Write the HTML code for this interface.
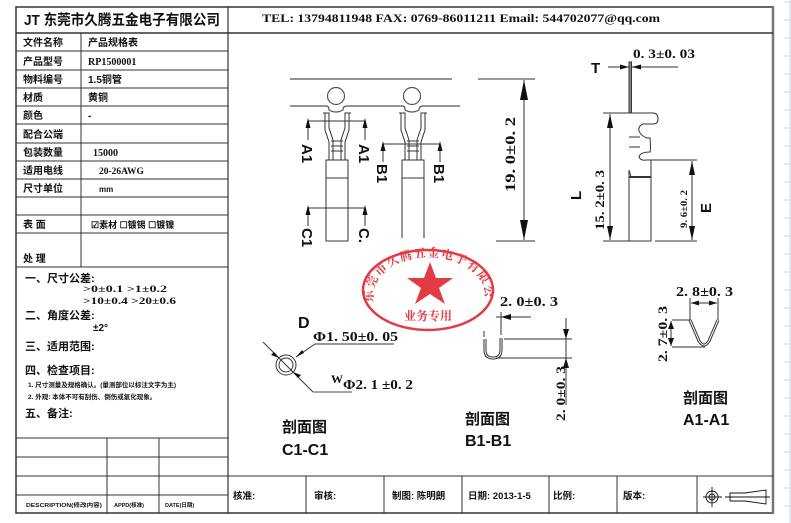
<!DOCTYPE html>
<html><head><meta charset="utf-8"><style>
html,body{margin:0;padding:0;background:#fff;}
svg{display:block;}
.c{font-family:"Liberation Sans","Noto Sans CJK SC",sans-serif;font-weight:bold;fill:#111;}
.m{font-family:"Liberation Mono","Noto Sans CJK SC",monospace;font-weight:bold;fill:#111;}
.s{font-family:"Liberation Sans",sans-serif;font-weight:bold;fill:#111;}
.f{font-family:"Liberation Serif",serif;font-weight:bold;fill:#111;}
</style></head><body>
<svg width="791" height="523" viewBox="0 0 791 523" xmlns="http://www.w3.org/2000/svg">
<defs>
<path id="arc" d="M374,302 A56,38 0 1 1 484,302"/>
</defs>
<line x1="790" y1="0" x2="790" y2="523" stroke="#c9d3e6" stroke-width="1"/>
<g stroke="#c9d3e6" stroke-width="1">
<line x1="784" y1="2" x2="790" y2="2"/><line x1="784" y1="20" x2="790" y2="20"/><line x1="784" y1="38" x2="790" y2="38"/><line x1="784" y1="56" x2="790" y2="56"/><line x1="784" y1="74" x2="790" y2="74"/><line x1="784" y1="92" x2="790" y2="92"/><line x1="784" y1="110" x2="790" y2="110"/><line x1="784" y1="128" x2="790" y2="128"/><line x1="784" y1="146" x2="790" y2="146"/><line x1="784" y1="164" x2="790" y2="164"/><line x1="784" y1="182" x2="790" y2="182"/><line x1="784" y1="200" x2="790" y2="200"/><line x1="784" y1="218" x2="790" y2="218"/><line x1="784" y1="236" x2="790" y2="236"/><line x1="784" y1="254" x2="790" y2="254"/><line x1="784" y1="272" x2="790" y2="272"/><line x1="784" y1="290" x2="790" y2="290"/><line x1="784" y1="308" x2="790" y2="308"/><line x1="784" y1="326" x2="790" y2="326"/><line x1="784" y1="344" x2="790" y2="344"/><line x1="784" y1="362" x2="790" y2="362"/><line x1="784" y1="380" x2="790" y2="380"/><line x1="784" y1="398" x2="790" y2="398"/><line x1="784" y1="416" x2="790" y2="416"/><line x1="784" y1="434" x2="790" y2="434"/><line x1="784" y1="452" x2="790" y2="452"/><line x1="784" y1="470" x2="790" y2="470"/><line x1="784" y1="488" x2="790" y2="488"/><line x1="784" y1="506" x2="790" y2="506"/>
</g>
<rect x="16" y="7" width="757" height="506" fill="none" stroke="#333" stroke-width="1.5"/>
<line x1="773" y1="7" x2="773" y2="513" stroke="#777" stroke-width="2.5"/>
<line x1="16" y1="33" x2="773" y2="33" stroke="#333" stroke-width="1.5"/>
<line x1="228" y1="7" x2="228" y2="513" stroke="#333" stroke-width="1.2"/>
<g stroke="#333" stroke-width="1">
<line x1="16" y1="51" x2="228" y2="51"/><line x1="16" y1="70" x2="228" y2="70"/><line x1="16" y1="88" x2="228" y2="88"/><line x1="16" y1="106" x2="228" y2="106"/><line x1="16" y1="124" x2="228" y2="124"/><line x1="16" y1="143" x2="228" y2="143"/><line x1="16" y1="161" x2="228" y2="161"/><line x1="16" y1="179" x2="228" y2="179"/><line x1="16" y1="197" x2="228" y2="197"/><line x1="16" y1="215" x2="228" y2="215"/><line x1="16" y1="233" x2="228" y2="233"/><line x1="16" y1="267" x2="228" y2="267"/>
<line x1="81" y1="33" x2="81" y2="267"/>
<line x1="16" y1="438" x2="228" y2="438"/><line x1="16" y1="457" x2="228" y2="457"/><line x1="16" y1="476" x2="773" y2="476"/><line x1="16" y1="495" x2="228" y2="495"/>
<line x1="107" y1="438" x2="107" y2="513"/><line x1="159" y1="438" x2="159" y2="513"/>
<line x1="306" y1="476" x2="306" y2="513"/><line x1="384" y1="476" x2="384" y2="513"/><line x1="462" y1="476" x2="462" y2="513"/><line x1="549" y1="476" x2="549" y2="513"/><line x1="617" y1="476" x2="617" y2="513"/><line x1="697" y1="476" x2="697" y2="513"/>
</g>
<text x="24" y="25" class="c" font-size="14.5" textLength="196" lengthAdjust="spacingAndGlyphs">JT 东莞市久腾五金电子有限公司</text>
<g class="c" font-size="10">
<text x="23" y="46">文件名称</text><text x="88" y="46">产品规格表</text>
<text x="23" y="65">产品型号</text><text x="88" y="65" class="f" font-size="10">RP1500001</text>
<text x="23" y="83">物料编号</text><text x="88" y="83">1.5铜管</text>
<text x="23" y="101">材质</text><text x="88" y="101">黄铜</text>
<text x="23" y="119">颜色</text><text x="88" y="119">-</text>
<text x="23" y="138">配合公端</text>
<text x="23" y="156">包装数量</text><text x="93" y="156" class="f" font-size="10">15000</text>
<text x="23" y="174">适用电线</text><text x="99" y="174" class="f" font-size="9.5">20-26AWG</text>
<text x="23" y="192">尺寸单位</text><text x="99" y="192" font-size="8">mm</text>
<text x="23" y="228">表 面</text><text x="91" y="228" font-size="9">☑素材  ☐镀锡  ☐镀镍</text>
<text x="23" y="262">处 理</text>
</g>
<g class="c">
<text x="25" y="282" font-size="11">一、尺寸公差:</text>
<text x="83" y="292" font-size="9" class="f" textLength="84" lengthAdjust="spacingAndGlyphs">&gt;0±0.1      &gt;1±0.2</text>
<text x="83" y="304" font-size="9" class="f" textLength="93" lengthAdjust="spacingAndGlyphs">&gt;10±0.4      &gt;20±0.6</text>
<text x="25" y="319" font-size="11">二、角度公差:</text>
<text x="93" y="331" font-size="10">±2°</text>
<text x="25" y="350" font-size="11">三、适用范围:</text>
<text x="25" y="374" font-size="11">四、检查项目:</text>
<text x="28" y="387" font-size="6.5">1. 尺寸测量及规格确认。(量测部位以标注文字为主)</text>
<text x="28" y="399" font-size="6.5">2. 外观: 本体不可有刮伤、倒伤或氧化现象。</text>
<text x="25" y="417" font-size="11">五、备注:</text>
<text x="26" y="507" font-size="5.5" textLength="76" lengthAdjust="spacingAndGlyphs">DESCRIPTION(修改内容)</text>
<text x="114" y="507" font-size="5.5">APPD(核准)</text>
<text x="165" y="507" font-size="5.5">DATE(日期)</text>
</g>
<text x="262" y="22" class="f" font-size="12" textLength="398" lengthAdjust="spacingAndGlyphs">TEL: 13794811948     FAX: 0769-86011211     Email: 544702077@qq.com</text>
<g class="c" font-size="9.5">
<text x="233" y="499">核准:</text><text x="314" y="499">审核:</text><text x="392" y="499">制图: 陈明朗</text><text x="468" y="499">日期: 2013-1-5</text><text x="553" y="499">比例:</text><text x="623" y="499">版本:</text>
</g>
<g stroke="#111" stroke-width="0.9" fill="none">
<circle cx="712" cy="497" r="6"/><circle cx="712" cy="497" r="3"/><line x1="703" y1="497" x2="722" y2="497"/><line x1="712" y1="487" x2="712" y2="507"/>
<path d="M730,493 L745,493 L766,490 L766,504 L745,501 L730,501 z"/><line x1="725" y1="497" x2="770" y2="497"/>
</g>
<g stroke="#555" stroke-width="1.2" fill="none">
<line x1="290" y1="79" x2="452" y2="79"/>
<path d="M290,106 L326,106 Q329,106 329,110 Q336,114 343,110 Q343,106 347,106 L403,106 Q405,106 405,110 Q412,114 419,110 Q419,106 423,106 L460,106"/>
<circle cx="336" cy="96" r="8.5"/><circle cx="412" cy="96" r="8.5"/>
</g>
<g stroke="#333" stroke-width="1" fill="none">
<path d="M323,113 L329,113 L329,128 L333,140 L333,160 M351,113 L345,113 L345,128 L341,140 L341,160"/>
<path d="M325,113 L325,130 L329,142 L329,160 M349,113 L349,130 L345,142 L345,160"/>
<line x1="331" y1="141" x2="343" y2="141"/><line x1="331" y1="146" x2="343" y2="146"/><line x1="331" y1="151" x2="343" y2="151"/>
<rect x="326" y="160" width="22" height="81"/><line x1="326" y1="178" x2="348" y2="178"/>
<path d="M399,113 L405,113 L405,128 L409,140 L409,160 M427,113 L421,113 L421,128 L417,140 L417,160"/>
<path d="M401,113 L401,130 L405,142 L405,160 M425,113 L425,130 L421,142 L421,160"/>
<line x1="407" y1="141" x2="419" y2="141"/><line x1="407" y1="146" x2="419" y2="146"/><line x1="407" y1="151" x2="419" y2="151"/>
<path d="M402,238 L402,160 L424,160 L424,238"/><line x1="402" y1="178" x2="424" y2="178"/>
<path d="M308,140 L308,121 L365,121 L365,140"/>
<path d="M383,162 L383,144 L440,144 L440,162"/>
<path d="M308,226 L308,208 L365,208 L365,226"/>
</g>
<g fill="#111">
<path d="M308,118 l-2.5,10 h5z"/><path d="M365,118 l-2.5,10 h5z"/>
<path d="M383,141 l-2.5,10 h5z"/><path d="M440,141 l-2.5,10 h5z"/>
<path d="M308,205 l-2.5,10 h5z"/><path d="M365,205 l-2.5,10 h5z"/>
</g>
<g class="s" font-size="15">
<text transform="translate(302,144) rotate(90)">A1</text>
<text transform="translate(359,144) rotate(90)">A1</text>
<text transform="translate(377,164) rotate(90)">B1</text>
<text transform="translate(434,164) rotate(90)">B1</text>
<text transform="translate(302,228) rotate(90)">C1</text>
<text transform="translate(359,228) rotate(90)">C.</text>
</g>
<g stroke="#333" stroke-width="1">
<line x1="478" y1="79" x2="535" y2="79"/><line x1="496" y1="241" x2="535" y2="241"/>
<line x1="524" y1="80" x2="524" y2="240"/>
</g>
<path d="M524,80 l-4,20 h8z M524,240 l-4,-20 h8z" fill="#111"/>
<text transform="translate(515,192) rotate(-90)" class="f" font-size="15" textLength="75" lengthAdjust="spacingAndGlyphs">19. 0±0. 2</text>
<g stroke="#333" stroke-width="1" fill="none">
<line x1="608" y1="67" x2="678" y2="67"/>
<rect x="629" y="62" width="2.5" height="51" fill="#888"/>
<path d="M629,113 L653,113 Q658,113 658,119 Q658,124 653,124 L643,124 Q638,126 639,131 Q641,136 647,138 L650,138 Q651,150 650,152 Q640,152 639,157 Q641,161 646,160 L651,160 L651,241 L629,241 L629,170 Q631,176 631,178"/>
<line x1="629" y1="137" x2="640" y2="137"/><line x1="629" y1="147" x2="640" y2="147"/>
<line x1="629" y1="177" x2="651" y2="177" stroke-width="2"/>
<line x1="603" y1="113" x2="629" y2="113"/><line x1="603" y1="241" x2="629" y2="241"/>
<line x1="610" y1="114" x2="610" y2="240"/>
<line x1="651" y1="160" x2="697" y2="160"/><line x1="655" y1="241" x2="697" y2="241"/>
<line x1="692" y1="161" x2="692" y2="240"/>
</g>
<path d="M610,114 l-3,14 h6z M610,240 l-3,-14 h6z M692,161 l-3,14 h6z M692,240 l-3,-14 h6z M629,67 l-9,-2.5 v5z M632,67 l9,-2.5 v5z" fill="#111"/>
<text x="633" y="58" class="f" font-size="13" textLength="62" lengthAdjust="spacingAndGlyphs">0. 3±0. 03</text>
<text x="591" y="73" class="s" font-size="15">T</text>
<text transform="translate(604,230) rotate(-90)" class="f" font-size="13" textLength="60" lengthAdjust="spacingAndGlyphs">15. 2±0. 3</text>
<text transform="translate(581,200) rotate(-90)" class="s" font-size="15">L</text>
<text transform="translate(687,228) rotate(-90)" class="f" font-size="9" textLength="38" lengthAdjust="spacingAndGlyphs">9. 6±0. 2</text>
<text transform="translate(711,213) rotate(-90)" class="s" font-size="15">E</text>
<text x="298" y="328" class="s" font-size="16">D</text>
<circle cx="286" cy="365" r="10" fill="none" stroke="#333" stroke-width="1"/>
<circle cx="286" cy="365" r="7" fill="none" stroke="#333" stroke-width="1"/>
<g stroke="#333" stroke-width="1" fill="none">
<line x1="263" y1="342" x2="313" y2="392"/><line x1="313" y1="392" x2="352" y2="392" stroke="#888" stroke-width="1.5"/>
<line x1="296" y1="357" x2="315" y2="344"/><line x1="315" y1="344" x2="394" y2="344"/>
</g>
<path d="M279,358 l-8,-3 l3,-3z M293,372 l8,3 l-3,3z M296,357 l6,-7 l2,3z" fill="#111"/>
<text x="313" y="341" class="f" font-size="14" textLength="85" lengthAdjust="spacingAndGlyphs">Φ1. 50±0. 05</text>
<text x="331" y="383" class="f" font-size="12">W</text>
<text x="343" y="389" class="f" font-size="14" textLength="70" lengthAdjust="spacingAndGlyphs">Φ2. 1 ±0. 2</text>
<text x="282" y="432" class="c" font-size="15">剖面图</text>
<text x="282" y="455" class="s" font-size="16">C1-C1</text>
<text x="500" y="306" class="f" font-size="14" textLength="58" lengthAdjust="spacingAndGlyphs">2. 0±0. 3</text>
<g stroke="#333" stroke-width="1" fill="none">
<line x1="496" y1="317" x2="531" y2="317"/><line x1="501" y1="312" x2="501" y2="335"/>
<line x1="484" y1="331" x2="484" y2="337"/>
<path d="M485,339 L485,350 Q485,358 493,358 Q501,358 501,350 L501,338" stroke-width="3"/>
<path d="M485,339 L485,350 Q485,358 493,358 Q501,358 501,350 L501,338" stroke="#fff" stroke-width="1"/>
<line x1="504" y1="339" x2="572" y2="339"/><line x1="496" y1="358" x2="572" y2="358"/>
<line x1="566" y1="318" x2="566" y2="405"/>
</g>
<path d="M501,317 l10,-3 v6z M566,339 l-3,-10 h6z M566,358 l-3,10 h6z" fill="#111"/>
<text transform="translate(565,421) rotate(-90)" class="f" font-size="13" textLength="55" lengthAdjust="spacingAndGlyphs">2. 0±0. 3</text>
<text x="465" y="424" class="c" font-size="15">剖面图</text>
<text x="465" y="446" class="s" font-size="16">B1-B1</text>
<text x="676" y="296" class="f" font-size="14" textLength="57" lengthAdjust="spacingAndGlyphs">2. 8±0. 3</text>
<g stroke="#333" stroke-width="1" fill="none">
<line x1="690" y1="298" x2="690" y2="320"/><line x1="718" y1="298" x2="718" y2="320"/>
<line x1="691" y1="303" x2="717" y2="303"/>
<path d="M690,320 L699,341 Q704,349 709,341 L718,320" stroke-width="3"/>
<path d="M690,320 L699,341 Q704,349 709,341 L718,320" stroke="#fff" stroke-width="1"/>
<line x1="672" y1="320" x2="690" y2="320"/><line x1="672" y1="347" x2="705" y2="347"/>
<line x1="671" y1="321" x2="671" y2="346"/>
</g>
<path d="M691,303 l8,-2.5 v5z M717,303 l-8,-2.5 v5z M671,321 l-3,8 h6z M671,346 l-3,-8 h6z" fill="#111"/>
<text transform="translate(667,362) rotate(-90)" class="f" font-size="13" textLength="56" lengthAdjust="spacingAndGlyphs">2. 7±0. 3</text>
<text x="683" y="403" class="c" font-size="15">剖面图</text>
<text x="683" y="425" class="s" font-size="16">A1-A1</text>
<g opacity="0.9">
<ellipse cx="428" cy="290" rx="65" ry="40" fill="none" stroke="#e0262f" stroke-width="2.5"/>
<path d="M430,262 L436,278 L453,278 L439,288 L445,304 L430,294 L415,304 L421,288 L407,278 L424,278 z" fill="#e0262f"/>
<text font-family="'Noto Serif CJK SC','Noto Sans CJK SC',serif" font-size="12" fill="#e0262f" font-weight="bold"><textPath href="#arc" textLength="172" lengthAdjust="spacing">东莞市久腾五金电子有限公司</textPath></text>
<text x="428" y="320" text-anchor="middle" font-family="'Noto Serif CJK SC','Noto Sans CJK SC',serif" font-size="12" fill="#e0262f" font-weight="bold">业务专用</text>
</g>
</svg>
</body></html>
